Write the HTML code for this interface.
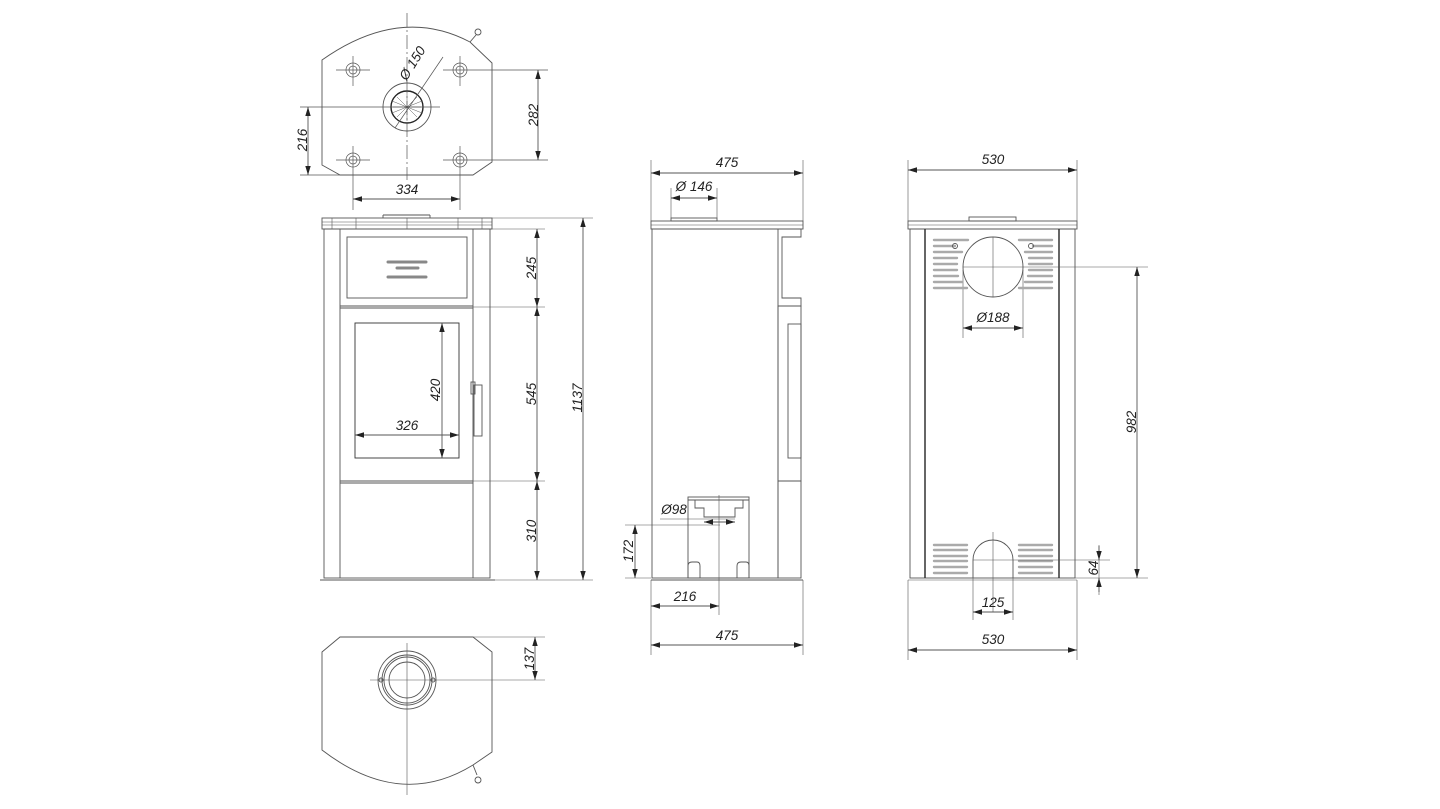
<!DOCTYPE html>
<html><head><meta charset="utf-8"><style>
html,body{margin:0;padding:0;background:#fff}
svg{display:block}
text{font-family:"Liberation Sans",sans-serif;font-style:italic;font-size:13.5px;fill:#222}
</style></head><body>
<svg width="1440" height="809" viewBox="0 0 1440 809" xmlns="http://www.w3.org/2000/svg">
<defs>
<marker id="a" viewBox="0 0 10 10" refX="10" refY="5" markerWidth="9" markerHeight="9" orient="auto-start-reverse" markerUnits="userSpaceOnUse"><path d="M0,2 L10,5 L0,8z" fill="#222"/></marker>
</defs>
<g fill="none" stroke="#555" stroke-width="0.9">
<!-- TOP VIEW -->
<path d="M340,175 L322,165 L322,60 Q400,5 470,42 L492,63 L492,162 L473,175 Z"/>
<line x1="470" y1="42" x2="476" y2="35"/><circle cx="478" cy="32" r="3"/>
<circle cx="407" cy="107" r="24"/><circle cx="407" cy="107" r="16" stroke="#222" stroke-width="1.4"/>
<g stroke-width="0.5"><line x1="393" y1="107" x2="421" y2="107"/><line x1="407" y1="93" x2="407" y2="121"/><line x1="397" y1="97" x2="417" y2="117"/><line x1="397" y1="117" x2="417" y2="97"/><line x1="392" y1="101" x2="422" y2="113"/><line x1="392" y1="113" x2="422" y2="101"/></g>
<g stroke-width="0.7">
<circle cx="353" cy="70" r="7"/><circle cx="353" cy="70" r="4"/>
<circle cx="460" cy="70" r="7"/><circle cx="460" cy="70" r="4"/>
<circle cx="353" cy="160" r="7"/><circle cx="353" cy="160" r="4"/>
<circle cx="460" cy="160" r="7"/><circle cx="460" cy="160" r="4"/>
<line x1="336" y1="70" x2="370" y2="70"/><line x1="353" y1="56" x2="353" y2="86"/>
<line x1="443" y1="70" x2="548" y2="70"/><line x1="460" y1="56" x2="460" y2="86"/>
<line x1="336" y1="160" x2="370" y2="160"/><line x1="353" y1="146" x2="353" y2="210"/>
<line x1="443" y1="160" x2="548" y2="160"/><line x1="460" y1="146" x2="460" y2="210"/>
<line x1="407" y1="13" x2="407" y2="180" stroke-dasharray="14,3,2,3"/>
<line x1="300" y1="107" x2="440" y2="107"/>
<line x1="300" y1="175" x2="340" y2="175"/>
<line x1="443" y1="57" x2="395" y2="128"/>
</g>
<line x1="538" y1="70" x2="538" y2="160" marker-start="url(#a)" marker-end="url(#a)"/>
<line x1="308" y1="107" x2="308" y2="175" marker-start="url(#a)" marker-end="url(#a)"/>
<line x1="353" y1="199" x2="460" y2="199" marker-start="url(#a)" marker-end="url(#a)"/>

<!-- FRONT VIEW -->
<rect x="322" y="218" width="170" height="11"/>
<line x1="322" y1="222" x2="492" y2="222" stroke-width="0.6"/><line x1="322" y1="225" x2="492" y2="225" stroke-width="0.6"/>
<line x1="383" y1="218" x2="383" y2="215"/><line x1="383" y1="215" x2="430" y2="215"/><line x1="430" y1="215" x2="430" y2="218"/>
<g stroke-width="0.6"><line x1="332" y1="218" x2="332" y2="229"/><line x1="356" y1="218" x2="356" y2="229"/><line x1="407" y1="218" x2="407" y2="229"/><line x1="458" y1="218" x2="458" y2="229"/><line x1="482" y1="218" x2="482" y2="229"/></g>
<rect x="324" y="229" width="166" height="349"/>
<line x1="340" y1="229" x2="340" y2="578"/><line x1="473" y1="229" x2="473" y2="578"/>
<rect x="347" y="237" width="120" height="61"/>
<g stroke="#888" stroke-width="3" stroke-linecap="round"><line x1="388" y1="262" x2="426" y2="262"/><line x1="397" y1="268" x2="418" y2="268"/><line x1="388" y1="277" x2="426" y2="277"/></g>
<line x1="340" y1="306" x2="473" y2="306"/><line x1="340" y1="308" x2="473" y2="308"/>
<rect x="355" y="323" width="104" height="135" stroke="#333"/>
<line x1="340" y1="481" x2="473" y2="481"/><line x1="340" y1="483" x2="473" y2="483"/>
<rect x="474" y="385" width="8" height="51"/><rect x="471" y="382" width="4" height="12"/>
<line x1="320" y1="580" x2="495" y2="580"/>
<line x1="442" y1="323" x2="442" y2="458" marker-start="url(#a)" marker-end="url(#a)"/>
<line x1="355" y1="435" x2="459" y2="435" marker-start="url(#a)" marker-end="url(#a)"/>
<g stroke-width="0.6"><line x1="490" y1="229" x2="545" y2="229"/><line x1="473" y1="307" x2="545" y2="307"/><line x1="473" y1="481" x2="545" y2="481"/><line x1="495" y1="580" x2="593" y2="580"/><line x1="492" y1="218" x2="593" y2="218"/></g>
<line x1="537" y1="229" x2="537" y2="307" marker-start="url(#a)" marker-end="url(#a)"/>
<line x1="537" y1="307" x2="537" y2="481" marker-start="url(#a)" marker-end="url(#a)"/>
<line x1="537" y1="481" x2="537" y2="580" marker-start="url(#a)" marker-end="url(#a)"/>
<line x1="583" y1="218" x2="583" y2="580" marker-start="url(#a)" marker-end="url(#a)"/>

<!-- BOTTOM VIEW -->
<path d="M340,637 L473,637 L492,652 L492,752 L473,765 Q400,810 322,750 L322,652 Z"/>
<line x1="473" y1="765" x2="477" y2="775"/><circle cx="478" cy="780" r="3"/>
<circle cx="407" cy="680" r="29"/><circle cx="407" cy="680" r="25"/><circle cx="407" cy="680" r="23"/><circle cx="407" cy="680" r="18"/>
<circle cx="381" cy="680" r="2"/><circle cx="433" cy="680" r="2"/>
<g stroke-width="0.6"><line x1="407" y1="643" x2="407" y2="795"/><line x1="370" y1="680" x2="545" y2="680"/><line x1="473" y1="637" x2="545" y2="637"/></g>
<line x1="535" y1="637" x2="535" y2="680" marker-start="url(#a)" marker-end="url(#a)"/>

<!-- SIDE VIEW -->
<rect x="651" y="221" width="152" height="8"/><line x1="651" y1="225" x2="803" y2="225" stroke-width="0.6"/>
<rect x="671" y="218" width="46" height="3"/>
<rect x="652" y="229" width="126" height="349"/>
<path d="M778,229 L801,229 L801,237 L782,237 L782,298 L801,298 L801,306 L778,306"/>
<rect x="778" y="306" width="23" height="175"/><rect x="788" y="324" width="13" height="134"/>
<rect x="778" y="481" width="23" height="97"/>
<line x1="651" y1="580" x2="803" y2="580"/>
<rect x="688" y="497" width="61" height="81"/>
<path d="M695,500 L695,508 L704,508 L704,517 L735,517 L735,508 L743,508 L743,500"/>
<line x1="688" y1="500" x2="749" y2="500"/>
<path d="M688,578 L688,566 Q688,562 692,562 L697,562 Q700,562 700,566 L700,578"/>
<path d="M737,578 L737,566 Q737,562 741,562 L746,562 Q749,562 749,566 L749,578"/>
<g stroke-width="0.6">
<line x1="651" y1="160" x2="651" y2="221"/><line x1="803" y1="160" x2="803" y2="221"/>
<line x1="671" y1="188" x2="671" y2="218"/><line x1="717" y1="188" x2="717" y2="218"/>
<line x1="660" y1="519" x2="735" y2="519"/>
<line x1="625" y1="525" x2="720" y2="525"/>
<line x1="719" y1="495" x2="719" y2="615"/>
<line x1="651" y1="580" x2="651" y2="655"/><line x1="803" y1="580" x2="803" y2="655"/>
<line x1="625" y1="578" x2="651" y2="578"/>
</g>
<line x1="651" y1="173" x2="803" y2="173" marker-start="url(#a)" marker-end="url(#a)"/>
<line x1="671" y1="198" x2="717" y2="198" marker-start="url(#a)" marker-end="url(#a)"/>
<line x1="704" y1="522" x2="735" y2="522" marker-start="url(#a)" marker-end="url(#a)"/>
<line x1="635" y1="525" x2="635" y2="578" marker-start="url(#a)" marker-end="url(#a)"/>
<line x1="651" y1="606" x2="719" y2="606" marker-start="url(#a)" marker-end="url(#a)"/>
<line x1="651" y1="645" x2="803" y2="645" marker-start="url(#a)" marker-end="url(#a)"/>

<!-- BACK VIEW -->
<rect x="908" y="221" width="169" height="8"/><line x1="908" y1="225" x2="1077" y2="225" stroke-width="0.6"/>
<rect x="969" y="217" width="47" height="4"/>
<rect x="910" y="229" width="165" height="349"/>
<line x1="925" y1="229" x2="925" y2="578" stroke="#333" stroke-width="1.5"/>
<line x1="1059" y1="229" x2="1059" y2="578" stroke="#333" stroke-width="1.5"/>
<circle cx="993" cy="267" r="30"/>
<line x1="993" y1="237" x2="993" y2="297" stroke-width="0.6"/>
<line x1="963" y1="267" x2="1148" y2="267" stroke-width="0.6"/>
<line x1="963" y1="270" x2="963" y2="338" stroke-width="0.6"/><line x1="1023" y1="270" x2="1023" y2="338" stroke-width="0.6"/>
<g stroke="#aaa" stroke-width="2.4" stroke-linecap="round">
<line x1="934" y1="240" x2="968" y2="240"/><line x1="934" y1="246" x2="955" y2="246"/><line x1="934" y1="252" x2="962" y2="252"/><line x1="934" y1="258" x2="957" y2="258"/><line x1="934" y1="264" x2="957" y2="264"/><line x1="934" y1="270" x2="957" y2="270"/><line x1="934" y1="276" x2="958" y2="276"/><line x1="934" y1="282" x2="962" y2="282"/><line x1="934" y1="288" x2="967" y2="288"/>
<line x1="1019" y1="240" x2="1052" y2="240"/><line x1="1033" y1="246" x2="1052" y2="246"/><line x1="1025" y1="252" x2="1052" y2="252"/><line x1="1029" y1="258" x2="1052" y2="258"/><line x1="1029" y1="264" x2="1052" y2="264"/><line x1="1029" y1="270" x2="1052" y2="270"/><line x1="1028" y1="276" x2="1052" y2="276"/><line x1="1025" y1="282" x2="1052" y2="282"/><line x1="1019" y1="288" x2="1052" y2="288"/>
<line x1="934" y1="545" x2="967" y2="545"/><line x1="934" y1="550" x2="967" y2="550"/><line x1="934" y1="556" x2="967" y2="556"/><line x1="934" y1="561" x2="967" y2="561"/><line x1="934" y1="567" x2="967" y2="567"/><line x1="934" y1="573" x2="967" y2="573"/>
<line x1="1019" y1="545" x2="1052" y2="545"/><line x1="1019" y1="550" x2="1052" y2="550"/><line x1="1019" y1="556" x2="1052" y2="556"/><line x1="1019" y1="561" x2="1052" y2="561"/><line x1="1019" y1="567" x2="1052" y2="567"/><line x1="1019" y1="573" x2="1052" y2="573"/>
</g>
<circle cx="955" cy="246" r="2.5"/><circle cx="1031" cy="246" r="2.5"/>
<path d="M973,578 L973,560 A20,20 0 0 1 1013,560 L1013,578"/>
<g stroke-width="0.6">
<line x1="993" y1="532" x2="993" y2="612"/>
<line x1="973" y1="578" x2="973" y2="620"/><line x1="1013" y1="578" x2="1013" y2="620"/>
<line x1="973" y1="560" x2="1110" y2="560"/>
<line x1="1075" y1="578" x2="1148" y2="578"/>
<line x1="908" y1="160" x2="908" y2="221"/><line x1="1077" y1="160" x2="1077" y2="221"/>
<line x1="908" y1="580" x2="908" y2="660"/><line x1="1077" y1="580" x2="1077" y2="660"/>
<line x1="908" y1="580" x2="1077" y2="580"/>
<line x1="1099" y1="545" x2="1099" y2="595"/>
</g>
<line x1="908" y1="170" x2="1077" y2="170" marker-start="url(#a)" marker-end="url(#a)"/>
<line x1="963" y1="328" x2="1023" y2="328" marker-start="url(#a)" marker-end="url(#a)"/>
<line x1="1137" y1="267" x2="1137" y2="578" marker-start="url(#a)" marker-end="url(#a)"/>
<line x1="1099" y1="546" x2="1099" y2="560" marker-end="url(#a)"/>
<line x1="1099" y1="592" x2="1099" y2="578" marker-end="url(#a)"/>
<line x1="973" y1="612" x2="1013" y2="612" marker-start="url(#a)" marker-end="url(#a)"/>
<line x1="908" y1="650" x2="1077" y2="650" marker-start="url(#a)" marker-end="url(#a)"/>
</g>

<g>
<text x="412" y="68" text-anchor="middle" transform="rotate(-58 412 63)">Ø 150</text>
<text x="533" y="120" text-anchor="middle" transform="rotate(-90 533 115)">282</text>
<text x="302" y="145" text-anchor="middle" transform="rotate(-90 302 140)">216</text>
<text x="407" y="194" text-anchor="middle">334</text>
<text x="532" y="272" text-anchor="middle" transform="rotate(-90 532 268)">245</text>
<text x="436" y="394" text-anchor="middle" transform="rotate(-90 436 390)">420</text>
<text x="407" y="430" text-anchor="middle">326</text>
<text x="532" y="398" text-anchor="middle" transform="rotate(-90 532 394)">545</text>
<text x="532" y="535" text-anchor="middle" transform="rotate(-90 532 531)">310</text>
<text x="578" y="402" text-anchor="middle" transform="rotate(-90 578 398)">1137</text>
<text x="530" y="663" text-anchor="middle" transform="rotate(-90 530 659)">137</text>
<text x="727" y="167" text-anchor="middle">475</text>
<text x="694" y="191" text-anchor="middle">Ø 146</text>
<text x="674" y="514" text-anchor="middle">Ø98</text>
<text x="629" y="555" text-anchor="middle" transform="rotate(-90 629 551)">172</text>
<text x="685" y="601" text-anchor="middle">216</text>
<text x="727" y="640" text-anchor="middle">475</text>
<text x="993" y="164" text-anchor="middle">530</text>
<text x="993" y="322" text-anchor="middle">Ø188</text>
<text x="1132" y="426" text-anchor="middle" transform="rotate(-90 1132 422)">982</text>
<text x="1094" y="572" text-anchor="middle" transform="rotate(-90 1094 568)">64</text>
<text x="993" y="607" text-anchor="middle">125</text>
<text x="993" y="644" text-anchor="middle">530</text>
</g>
</svg>
</body></html>
